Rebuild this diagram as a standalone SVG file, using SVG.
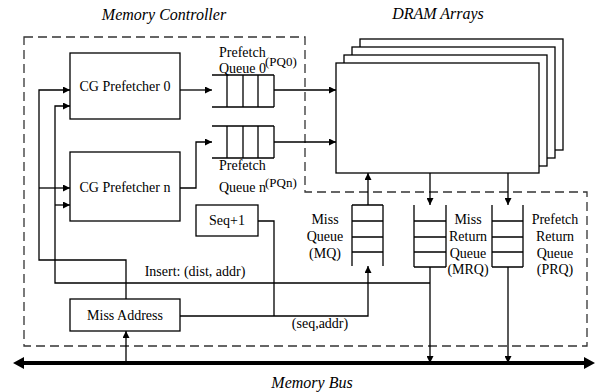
<svg xmlns="http://www.w3.org/2000/svg" width="597" height="392" viewBox="0 0 597 392" font-family="'Liberation Serif', 'DejaVu Serif', serif">
<defs>
<style>
text{font-family:'Liberation Serif','DejaVu Serif',serif;font-size:14px;fill:#000}
.t{font-style:italic;font-size:16px}
.s{font-size:13px}
.box{fill:#fff;stroke:#000;stroke-width:1.3}
.ln{fill:none;stroke:#000;stroke-width:1.3}
.dash{fill:none;stroke:#333;stroke-width:1.3;stroke-dasharray:9,5}
</style>
<marker id="a" viewBox="0 0 10 10" refX="10" refY="5" markerWidth="7" markerHeight="7" markerUnits="userSpaceOnUse" orient="auto"><path d="M0,0L10,5L0,10Z" fill="#000"/></marker>
</defs>
<path class="dash" d="M24,37H305V192H587V346H24Z"/>
<text class="t" x="164" y="20" text-anchor="middle">Memory Controller</text>
<text class="t" x="438" y="19" text-anchor="middle">DRAM Arrays</text>
<g id="dram">
<rect class="box" x="360" y="39" width="203" height="111"/>
<rect class="box" x="352" y="47" width="203" height="111"/>
<rect class="box" x="344" y="55" width="203" height="111"/>
<rect class="box" x="336" y="63" width="203" height="110"/>
</g>
<g id="cg0"><rect class="box" x="70" y="53" width="110" height="66"/><text x="125" y="91" text-anchor="middle">CG Prefetcher 0</text></g>
<g id="cgn"><rect class="box" x="70" y="152" width="110" height="69"/><text x="125" y="192" text-anchor="middle">CG Prefetcher n</text></g>
<g id="missaddr"><rect class="box" x="70" y="299" width="110" height="32"/><text x="125" y="320" text-anchor="middle">Miss Address</text></g>
<g id="seq"><rect class="box" x="196" y="205" width="62" height="31"/><text x="227" y="225" text-anchor="middle">Seq+1</text></g>
<g id="pq0">
<path class="ln" d="M212,75H274M212,107H274M227,75V107M243,75V107M258,75V107M274,75V107"/>
<text x="219" y="57">Prefetch</text><text x="219" y="73">Queue 0</text><text class="s" x="265" y="66">(PQ0)</text>
</g>
<g id="pqn">
<path class="ln" d="M212,126H274M212,158H274M227,126V158M243,126V158M258,126V158M274,126V158"/>
<text x="219" y="170">Prefetch</text><text x="219" y="192">Queue n</text><text class="s" x="265" y="187">(PQn)</text>
</g>
<g id="mq">
<path class="ln" d="M352,205H383M352,221H383M352,237H383M352,252H383M352,205V266M383,205V266"/>
<text x="325" y="224" text-anchor="middle">Miss</text><text x="325" y="241" text-anchor="middle">Queue</text><text x="325" y="258" text-anchor="middle">(MQ)</text>
</g>
<g id="mrq">
<path class="ln" d="M414,221H446M414,237H446M414,252H446M414,267H446M414,205V267M446,205V267"/>
<text x="468" y="224" text-anchor="middle">Miss</text><text x="468" y="241" text-anchor="middle">Return</text><text x="468" y="258" text-anchor="middle">Queue</text><text x="468" y="274" text-anchor="middle">(MRQ)</text>
</g>
<g id="prq">
<path class="ln" d="M492,221H523M492,237H523M492,252H523M492,267H523M492,205V267M523,205V267"/>
<text x="555" y="224" text-anchor="middle">Prefetch</text><text x="555" y="241" text-anchor="middle">Return</text><text x="555" y="258" text-anchor="middle">Queue</text><text x="555" y="274" text-anchor="middle">(PRQ)</text>
</g>
<g id="connectors">
<path class="ln" d="M180,90H212" marker-end="url(#a)"/>
<path class="ln" d="M274,90H336" marker-end="url(#a)"/>
<path class="ln" d="M180,188H196V142H212" marker-end="url(#a)"/>
<path class="ln" d="M274,142H336" marker-end="url(#a)"/>
<path class="ln" d="M126,299V260H39V90H70" marker-end="url(#a)"/>
<path class="ln" d="M39,188H70" marker-end="url(#a)"/>
<path class="ln" d="M430,283H55V106H70" marker-end="url(#a)"/>
<path class="ln" d="M55,205H70" marker-end="url(#a)"/>
<path class="ln" d="M258,221H274V316"/>
<path class="ln" d="M180,316H368V266" marker-end="url(#a)"/>
<path class="ln" d="M368,205V173" marker-end="url(#a)"/>
<path class="ln" d="M430,173V205" marker-end="url(#a)"/>
<path class="ln" d="M508,173V205" marker-end="url(#a)"/>
<path class="ln" d="M430,267V363" marker-end="url(#a)"/>
<path class="ln" d="M508,267V363" marker-end="url(#a)"/>
<path class="ln" d="M126,363V331" marker-end="url(#a)"/>
<path fill="none" stroke="#000" stroke-width="4" d="M20,363H588"/>
<path d="M13,363L24,357L24,369Z M595,363L584,357L584,369Z" fill="#000"/>
</g>
<text x="195" y="276" text-anchor="middle">Insert: (dist, addr)</text>
<text x="320" y="328" text-anchor="middle">(seq,addr)</text>
<text class="t" x="312" y="388" text-anchor="middle">Memory Bus</text>
</svg>
